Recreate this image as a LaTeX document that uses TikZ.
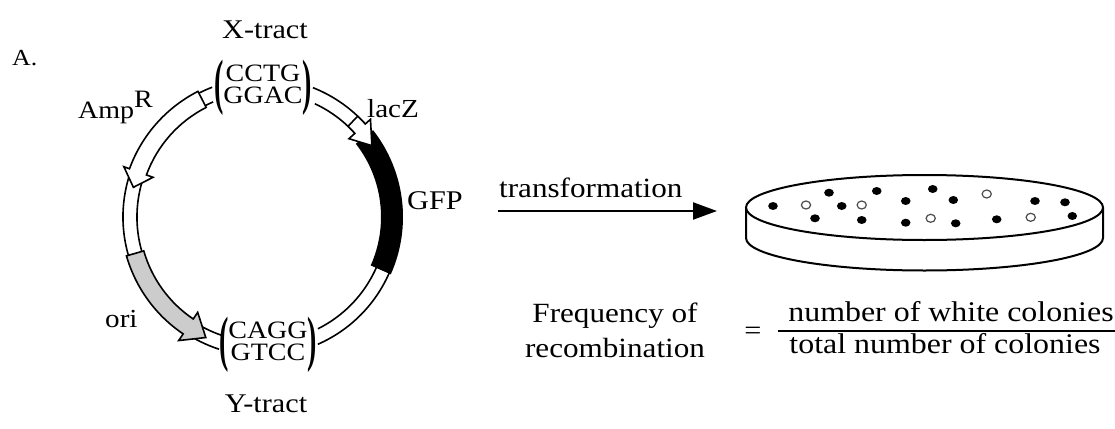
\documentclass[tikz,border=0pt]{standalone}
\usepackage{fontspec}
\setmainfont{Liberation Serif}[FakeStretch=1.12]
\usetikzlibrary{arrows.meta}
\newcommand\fsz[1]{\fontsize{#1}{#1}\selectfont}
\newcommand\bigparen[1]{\raisebox{-0.37em}{\scalebox{1}[2.45]{\bfseries #1}}}
\newcommand\tract[2]{\bigparen{(}\begin{tabular}{@{}c@{}}#1\\#2\end{tabular}\bigparen{)}}
\tikzset{
  ring/.style={line width=1.6pt},
  lab/.style={inner sep=0pt, anchor=base},
  labw/.style={inner sep=0pt, anchor=base west},
  dish/.style={line width=2pt},
  colony/.style={fill=black},
  whitecol/.style={draw=gray!60!black, line width=1.2pt, fill=white},
}
\begin{document}
\begin{tikzpicture}[x=1pt, y=-1pt]
\useasboundingbox (0,0) rectangle (1115,428);

% panel label
\node[labw, font=\fsz{23}] (panel) at (12,65) {A.};

% plasmid map
\begin{scope}[shift={(262,217)}]
  % backbone (double line), broken at the two tracts
  \draw[ring] (-66.3:139pt) arc[start angle=-66.3, end angle=68.5, radius=139pt];
  \draw[ring] (-63.4:125pt) arc[start angle=-63.4, end angle=65, radius=125pt];
  \draw[ring] (111:139pt) arc[start angle=111, end angle=252, radius=139pt];
  \draw[ring] (113:125pt) arc[start angle=113, end angle=251, radius=125pt];
  % GFP block
  \fill (38:119pt) arc[start angle=38, end angle=-24, radius=119pt]
        -- (-24:141pt) arc[start angle=-24, end angle=38, radius=141pt] -- cycle;
  % lacZ arrow
  \draw[ring, fill=white] (46.5:139pt) arc[start angle=46.5, end angle=42, radius=139pt]
        -- (42:146pt) -- (33:131pt) -- (42:117pt) -- (42:125pt)
        arc[start angle=42, end angle=46.5, radius=125pt] -- cycle;
  % AmpR arrow
  \draw[ring, fill=white] (117:141pt) arc[start angle=117, end angle=160, radius=141pt]
        -- (160:147pt) -- (167:132pt) -- (160:116pt) -- (160:123pt)
        arc[start angle=160, end angle=117, radius=123pt] -- cycle;
  % ori arrow
  \draw[ring, fill=gray!40] (196:141pt) arc[start angle=196, end angle=236, radius=141pt]
        -- (236:149pt) -- (245:133pt) -- (236:115pt) -- (236:123pt)
        arc[start angle=236, end angle=196, radius=123pt] -- cycle;
\end{scope}

% plasmid labels
\node[lab, font=\fsz{27}] (xtract) at (265,38) {X-tract};
\node[inner sep=0pt, font=\fontsize{25}{20}\selectfont] (xseq) at (263,88) {\tract{CCTG}{GGAC}};
\node[inner sep=0pt, font=\fontsize{25}{20}\selectfont] (yseq) at (268,345) {\tract{CAGG}{GTCC}};
\node[lab, font=\fsz{27}] (ytract) at (266,412) {Y-tract};
\node[labw, font=\fsz{25}] (amp) at (78,118) {Amp\raisebox{0.42em}{R}};
\node[labw, font=\fsz{26}] (lacz) at (367,117) {lacZ};
\node[labw, font=\fsz{27}] (gfp) at (407,209) {GFP};
\node[labw, font=\fsz{26}] (ori) at (105,327) {ori};

% transformation step
\node[labw, font=\fsz{27.8}] (trf) at (499,197) {transformation};
\coordinate (arrS) at (498,211);
\coordinate (arrE) at (717,211);
\draw[line width=2.2pt, -{Triangle[length=24pt, width=17pt]}] (arrS) -- (arrE);

% petri dish
\draw[dish] (746,207.5) -- (746,238) arc[start angle=180, end angle=360, x radius=178.5pt, y radius=32.5pt] -- (1103,207.5);
\draw[dish, fill=white] (924.5,207.5) ellipse [x radius=178.5pt, y radius=32.5pt];
\foreach \px/\py in {773/206, 829/192.7, 841.7/206, 815/218.3, 861.7/220, 876.7/191,
                     905.7/201, 905.7/222.7, 932.7/189, 953.3/200, 955.7/223.3,
                     996.7/219.3, 1035/201, 1065/202.3, 1072.3/216}
  \fill[colony] (\px,\py) ellipse [x radius=4.8pt, y radius=4pt];
\foreach \px/\py in {806/205, 861.7/205, 930.7/218.3, 986.7/194, 1030.7/217.3}
  \draw[whitecol] (\px,\py) ellipse [x radius=4.6pt, y radius=4pt];

% frequency formula
\node[lab, font=\fsz{27.8}] (freq1) at (615,322) {Frequency of};
\node[lab, font=\fsz{27.8}] (freq2) at (615,357) {recombination};
\node[lab, font=\fsz{27}] (eq) at (753,339) {=};
\node[lab, font=\fsz{28.5}] (num) at (951,321) {number of white colonies};
\node[lab, font=\fsz{28.5}] (den) at (945,353) {total number of colonies};
\coordinate (barL) at (778,331);
\coordinate (barR) at (1115,331);
\draw[line width=1.5pt] (barL) -- (barR);
\end{tikzpicture}
\end{document}
